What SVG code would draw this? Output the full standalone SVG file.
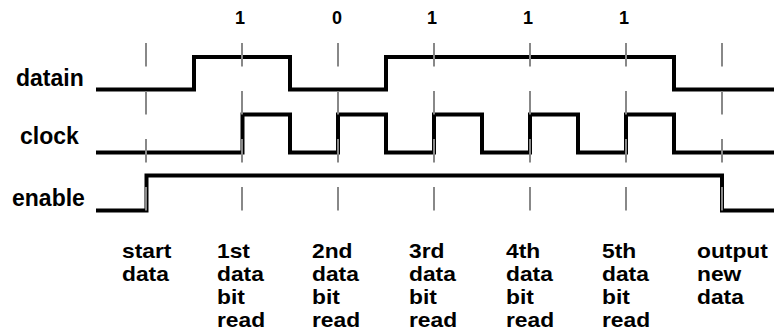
<svg xmlns="http://www.w3.org/2000/svg" width="778" height="335" viewBox="0 0 778 335">
<style>
.sig{fill:none;stroke:#000;stroke-width:4;stroke-linejoin:miter;stroke-linecap:butt}
.tick{stroke:#888;stroke-width:2;stroke-dasharray:23.5 24.5}
text{font-family:"Liberation Sans",Arial,sans-serif;font-weight:bold;fill:#000}
.lbl{font-size:23px}
.bit{font-size:18px;text-anchor:middle}
.cap{font-size:20px}
</style>
<rect width="778" height="335" fill="#fff"/>
<g id="signals">
<path id="datain" class="sig" d="M96,89.5 H194 V57 H290 V89.5 H386 V57 H674 V89.5 H774"/>
<path id="clock" class="sig" d="M96,152.5 H242.5 V114.5 H290 V152.5 H338 V114.5 H386 V152.5 H434 V114.5 H482 V152.5 H530 V114.5 H578 V152.5 H626 V114.5 H674 V152.5 H774"/>
<path id="enable" class="sig" d="M96,210.5 H146.5 V175.5 H722 V210.5 H774"/>
</g>
<g id="ticks">
<line class="tick" x1="146" y1="43" x2="146" y2="211"/>
<line class="tick" x1="242" y1="43" x2="242" y2="211"/>
<line class="tick" x1="338" y1="43" x2="338" y2="211"/>
<line class="tick" x1="434" y1="43" x2="434" y2="211"/>
<line class="tick" x1="530" y1="43" x2="530" y2="211"/>
<line class="tick" x1="626" y1="43" x2="626" y2="211"/>
<line class="tick" x1="722" y1="43" x2="722" y2="211"/>
</g>
<g id="signal-labels">
<text class="lbl" x="16" y="86">datain</text>
<text class="lbl" x="20" y="144">clock</text>
<text class="lbl" x="12" y="206">enable</text>
</g>
<g id="bits">
<text class="bit" x="240" y="24">1</text>
<text class="bit" x="337" y="24">0</text>
<text class="bit" x="432" y="24">1</text>
<text class="bit" x="528" y="24">1</text>
<text class="bit" x="624" y="24">1</text>
</g>
<g id="captions">
<g transform="translate(122,0) scale(1.14,1)"><text class="cap" x="0" y="258">start<tspan x="0" y="281">data</tspan></text></g>
<g transform="translate(217,0) scale(1.14,1)"><text class="cap" x="0" y="258">1st<tspan x="0" y="281">data</tspan><tspan x="0" y="304">bit</tspan><tspan x="0" y="327">read</tspan></text></g>
<g transform="translate(312,0) scale(1.14,1)"><text class="cap" x="0" y="258">2nd<tspan x="0" y="281">data</tspan><tspan x="0" y="304">bit</tspan><tspan x="0" y="327">read</tspan></text></g>
<g transform="translate(409,0) scale(1.14,1)"><text class="cap" x="0" y="258">3rd<tspan x="0" y="281">data</tspan><tspan x="0" y="304">bit</tspan><tspan x="0" y="327">read</tspan></text></g>
<g transform="translate(506,0) scale(1.14,1)"><text class="cap" x="0" y="258">4th<tspan x="0" y="281">data</tspan><tspan x="0" y="304">bit</tspan><tspan x="0" y="327">read</tspan></text></g>
<g transform="translate(602,0) scale(1.14,1)"><text class="cap" x="0" y="258">5th<tspan x="0" y="281">data</tspan><tspan x="0" y="304">bit</tspan><tspan x="0" y="327">read</tspan></text></g>
<g transform="translate(697,0) scale(1.14,1)"><text class="cap" x="0" y="258">output<tspan x="0" y="281">new</tspan><tspan x="0" y="304">data</tspan></text></g>
</g>
</svg>
